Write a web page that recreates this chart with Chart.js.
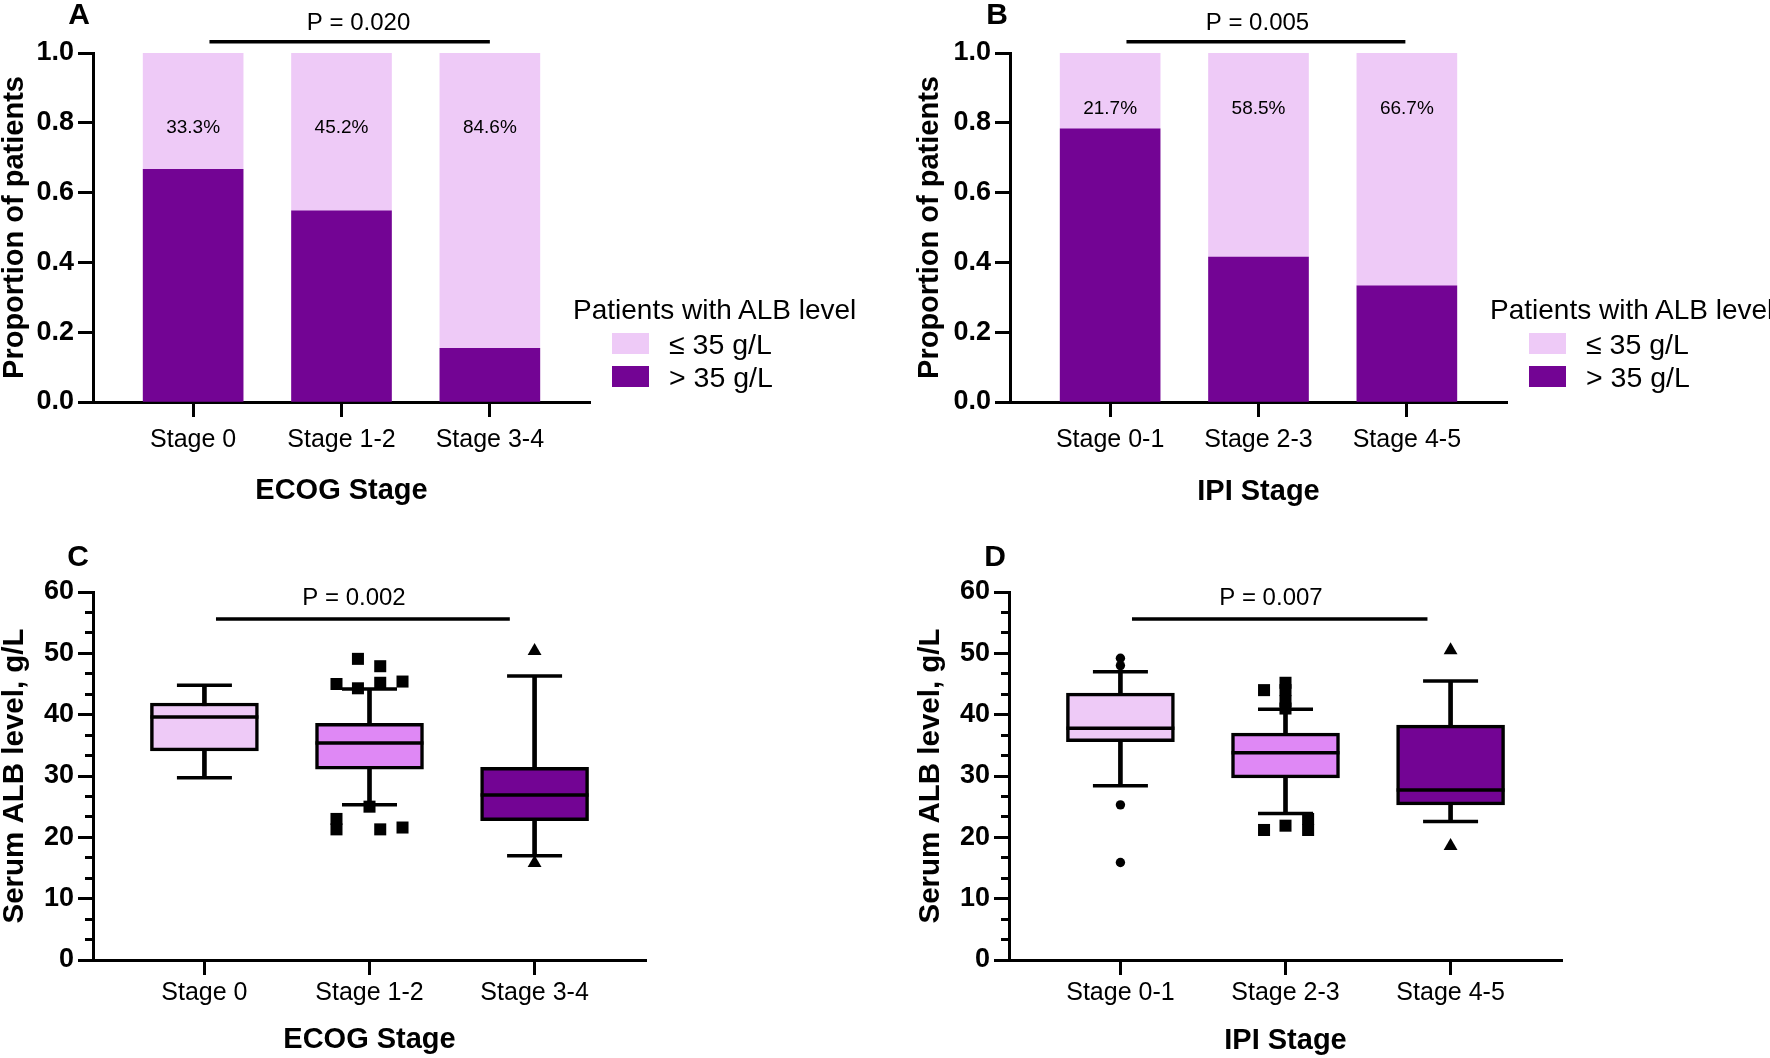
<!DOCTYPE html>
<html>
<head>
<meta charset="utf-8">
<script src="https://cdn.jsdelivr.net/npm/chart.js@4.4.1/dist/chart.umd.min.js"></script>
<style>
  html, body { margin: 0; padding: 0; background: #fff; }
  body { width: 1770px; height: 1058px; position: relative; overflow: hidden;
         font-family: "Liberation Sans", Arial, sans-serif; color: #000; }
  canvas { position: absolute; }
  .letter { position: absolute; width: 40px; text-align: center; font-weight: bold;
            font-size: 30px; line-height: 30px; }
  .legend { position: absolute; font-size: 28px; white-space: nowrap; }
  .legend .ttl { position: absolute; left: 0; top: 0; line-height: 34px; }
  .legend .row { position: absolute; left: 0; height: 34px; line-height: 34px; font-size: 28.5px; }
  .legend .sw { position: absolute; left: 39px; top: 6px; width: 37px; height: 21px; }
  .legend .txt { position: absolute; left: 96px; top: 0; }
</style>
</head>
<body>
<canvas id="chartA" width="885" height="529" style="left:0;top:0"></canvas>
<canvas id="chartB" width="885" height="529" style="left:885px;top:0"></canvas>
<canvas id="chartC" width="885" height="529" style="left:0;top:529px"></canvas>
<canvas id="chartD" width="885" height="529" style="left:885px;top:529px"></canvas>
<div class="letter" style="left:59px;top:-1px">A</div>
<div class="letter" style="left:977px;top:-1px">B</div>
<div class="letter" style="left:58px;top:541px">C</div>
<div class="letter" style="left:975px;top:541px">D</div>
<div class="legend" id="legA" style="left:573px;top:293px"></div>
<div class="legend" id="legB" style="left:1490px;top:293px"></div>
<script>
// categories
const ecogStages = ['Stage 0', 'Stage 1-2', 'Stage 3-4'];
const ipiStages = ['Stage 0-1', 'Stage 2-3', 'Stage 4-5'];

// proportion of patients (A, B)
const ecogLow = [0.333, 0.452, 0.846];   // <= 35 g/L
const ecogHigh = [0.667, 0.548, 0.154];  // > 35 g/L
const ipiLow = [0.217, 0.585, 0.667];
const ipiHigh = [0.783, 0.415, 0.333];
const propTicks = [0, 0.2, 0.4, 0.6, 0.8, 1.0];

// serum ALB boxes (C, D): [low whisker, Q1, median, Q3, high whisker]
const ecogBox = [
  [29.7, 34.1, 39.6, 41.9, 44.8],
  [25.3, 31.1, 35.4, 38.6, 44.2],
  [17.0, 22.7, 26.9, 31.4, 46.3]
];
const ipiBox = [
  [28.4, 35.6, 37.8, 43.5, 47.0],
  [23.9, 29.7, 33.8, 37.0, 40.9],
  [22.6, 25.3, 27.7, 38.3, 45.5]
];
const albTicks = [0, 10, 20, 30, 40, 50, 60];

// outliers: [stage position, g/L]
const ecogOut1 = [[0.8, 45.0], [0.93, 49.1], [0.93, 44.3], [1.065, 47.9], [1.065, 45.2], [1.2, 45.4],
                  [1.0, 25.0], [0.8, 23.0], [0.8, 21.3], [1.065, 21.3], [1.2, 21.6]];
const ecogOut2 = [[2, 50.4], [2, 15.8]];
const ipiOut0 = [[0, 49.2], [0, 48.0], [0, 25.3], [0, 15.9]];
const ipiOut1 = [[0.87, 44.0], [1, 45.2], [1, 44.0], [1, 42.2], [1, 41.0],
                 [0.87, 21.2], [1, 21.9], [1.137, 23.0], [1.137, 21.2]];
const ipiOut2 = [[2, 50.5], [2, 18.6]];

const pLabels = ['P = 0.020', 'P = 0.005', 'P = 0.002', 'P = 0.007'];

const LIGHT = '#EECAF7', MID = '#DF88F5', DARK = '#730494';
const FONT = '"Liberation Sans", Arial, sans-serif';
Chart.defaults.font.family = FONT;
Chart.defaults.color = '#000';

// P bracket + percentage labels, placed with the chart scales
const annotate = {
  id: 'annotate',
  afterDatasetsDraw(chart, args, o) {
    const {ctx} = chart, x = chart.scales.x, y = chart.scales.y;
    ctx.save();
    ctx.fillStyle = '#000'; ctx.strokeStyle = '#000'; ctx.lineWidth = 3.5;
    const py = y.getPixelForValue(o.p.y);
    ctx.beginPath();
    ctx.moveTo(x.getPixelForValue(o.p.from), py);
    ctx.lineTo(x.getPixelForValue(o.p.to), py);
    ctx.stroke();
    ctx.textAlign = 'center'; ctx.textBaseline = 'middle';
    ctx.font = '24px ' + FONT;
    ctx.fillText(o.p.label, x.getPixelForValue(o.p.labelX), y.getPixelForValue(o.p.labelY));
    if (o.pct) {
      ctx.font = '19px ' + FONT;
      o.pct.values.forEach((t, i) => ctx.fillText(t, x.getPixelForValue(i), y.getPixelForValue(o.pct.y)));
    }
    ctx.restore();
  }
};

function stageAxis(cats, title, height, tickPad, titlePad) {
  return {
    type: 'linear', min: -0.675, max: 2.675, offset: false, stacked: true,
    afterBuildTicks: s => { s.ticks = cats.map((c, i) => ({value: i})); },
    afterFit: s => { s.height = height; },
    ticks: {callback: v => cats[v], padding: tickPad, maxRotation: 0, autoSkip: false,
            font: {size: 25, lineHeight: 1.2}},
    grid: {drawOnChartArea: false, offset: false, tickLength: 15, tickWidth: 3, tickColor: '#000'},
    border: {color: '#000', width: 3},
    title: {display: true, text: title, font: {size: 29, weight: 'bold', lineHeight: 1},
            padding: {top: 0, bottom: titlePad}}
  };
}

function valueAxis(min, max, tickVals, fmt, title, titleSize, width, titlePad, stacked) {
  return {
    type: 'linear', min, max, stacked, weight: 0,
    afterBuildTicks: s => { s.ticks = tickVals.map(v => ({value: v})); },
    afterFit: s => { s.width = width; },
    ticks: {callback: fmt, padding: 4, font: {size: 27, weight: 'bold'}},
    grid: {drawOnChartArea: false, tickLength: 15, tickWidth: 3, tickColor: '#000'},
    border: {color: '#000', width: 3},
    title: {display: true, text: title, font: {size: titleSize, weight: 'bold', lineHeight: 1},
            padding: {top: titlePad, bottom: 0}}
  };
}

function stackChart(id, cats, high, low, lay, p, pctY) {
  return new Chart(document.getElementById(id), {
    type: 'bar',
    data: {
      datasets: [
        {label: '> 35 g/L', data: high.map((v, i) => ({x: i, y: v})), backgroundColor: DARK, barThickness: 100},
        {label: '\u2264 35 g/L', data: low.map((v, i) => ({x: i, y: v})), backgroundColor: LIGHT, barThickness: 100}
      ]
    },
    options: {
      responsive: false, animation: false, events: [],
      layout: {padding: {left: 0, top: 53, right: lay.right, bottom: 0}},
      plugins: {
        legend: {display: false}, tooltip: {enabled: false},
        annotate: {p, pct: {y: pctY, values: low.map(v => (v * 100).toFixed(1) + '%')}}
      },
      scales: {
        x: stageAxis(cats, lay.xTitle, 127, 8, lay.xTitlePad),
        y: valueAxis(0, 1, propTicks, v => v.toFixed(1), 'Proportion of patients', 29, lay.yWidth, lay.yTitlePad, true)
      }
    },
    plugins: [annotate]
  });
}

const MARK = {rect: 8.5, triangle: 8, circle: 4.7};

function boxChart(id, cats, stats, outliers, lay, p) {
  const fills = [LIGHT, MID, DARK];
  const datasets = [
    {type: 'bar', data: stats.map((b, i) => ({x: i, y: [b[0], b[4]]})), backgroundColor: '#000',
     barThickness: 4, grouped: false, order: 3},
    {type: 'bar', data: stats.map((b, i) => ({x: i, y: [b[1], b[3]]})), backgroundColor: fills,
     borderColor: '#000', borderWidth: 3.5, borderSkipped: false, barThickness: 108, grouped: false, order: 2},
    {type: 'scatter', data: stats.map((b, i) => ({x: i, y: b[2]})), pointStyle: 'line',
     pointRadius: 54, pointBorderWidth: 3.5, pointBorderColor: '#000', order: 1},
    {type: 'scatter', data: stats.flatMap((b, i) => [{x: i, y: b[0]}, {x: i, y: b[4]}]), pointStyle: 'line',
     pointRadius: 27.5, pointBorderWidth: 3.5, pointBorderColor: '#000', order: 1}
  ];
  outliers.forEach(o => datasets.push({
    type: 'scatter', data: o.pts.map(q => ({x: q[0], y: q[1]})), pointStyle: o.style,
    pointRadius: MARK[o.style], pointBackgroundColor: '#000', pointBorderWidth: 0, order: 0
  }));
  const minor = [];
  for (let k = 0; k <= 18; k++) minor.push(k * 10 / 3);
  return new Chart(document.getElementById(id), {
    type: 'bar',
    data: {datasets},
    options: {
      responsive: false, animation: false, events: [],
      layout: {padding: {left: 0, top: 63, right: lay.right, bottom: 0}},
      plugins: {legend: {display: false}, tooltip: {enabled: false}, annotate: {p}},
      scales: {
        x: stageAxis(cats, lay.xTitle, 98, 3, lay.xTitlePad),
        y: valueAxis(0, 60, albTicks, v => String(v), 'Serum ALB level, g/L', 29.5, lay.yWidth, lay.yTitlePad, false),
        yMinor: {
          type: 'linear', position: 'left', min: 0, max: 60, weight: -1,
          afterBuildTicks: s => { s.ticks = minor.map(v => ({value: v})); },
          afterFit: s => { s.width = 0; },
          ticks: {display: false},
          grid: {drawOnChartArea: false, tickLength: 8, tickWidth: 3, tickColor: '#000'},
          border: {display: false}
        }
      }
    },
    plugins: [annotate]
  });
}

function buildLegend(el, chart) {
  const items = chart.data.datasets.slice().reverse();
  let html = '<div class="ttl">Patients with ALB level</div>';
  items.forEach((d, i) => {
    html += `<div class="row" style="top:${34 + i * 33}px"><span class="sw" style="background:${d.backgroundColor}"></span><span class="txt">${d.label}</span></div>`;
  });
  el.innerHTML = html;
}

const chA = stackChart('chartA', ecogStages, ecogHigh, ecogLow,
  {right: 295, yWidth: 93, yTitlePad: 0, xTitle: 'ECOG Stage', xTitlePad: 24},
  {label: pLabels[0], from: 0.11, to: 2.0, y: 1.032, labelX: 1.115, labelY: 1.086}, 0.786);
const chB = stackChart('chartB', ipiStages, ipiHigh, ipiLow,
  {right: 263, yWidth: 125, yTitlePad: 30, xTitle: 'IPI Stage', xTitlePad: 23},
  {label: pLabels[1], from: 0.11, to: 1.99, y: 1.032, labelX: 0.993, labelY: 1.086}, 0.84);
buildLegend(document.getElementById('legA'), chA);
buildLegend(document.getElementById('legB'), chB);

boxChart('chartC', ecogStages, ecogBox,
  [{style: 'rect', pts: ecogOut1}, {style: 'triangle', pts: ecogOut2}],
  {right: 239, yWidth: 93, yTitlePad: 0, xTitle: 'ECOG Stage', xTitlePad: 4},
  {label: pLabels[2], from: 0.07, to: 1.85, y: 55.6, labelX: 0.906, labelY: 58.9});
boxChart('chartD', ipiStages, ipiBox,
  [{style: 'circle', pts: ipiOut0}, {style: 'rect', pts: ipiOut1}, {style: 'triangle', pts: ipiOut2}],
  {right: 208, yWidth: 124, yTitlePad: 31, xTitle: 'IPI Stage', xTitlePad: 3},
  {label: pLabels[3], from: 0.07, to: 1.86, y: 55.6, labelX: 0.912, labelY: 58.9});
</script>
</body>
</html>
